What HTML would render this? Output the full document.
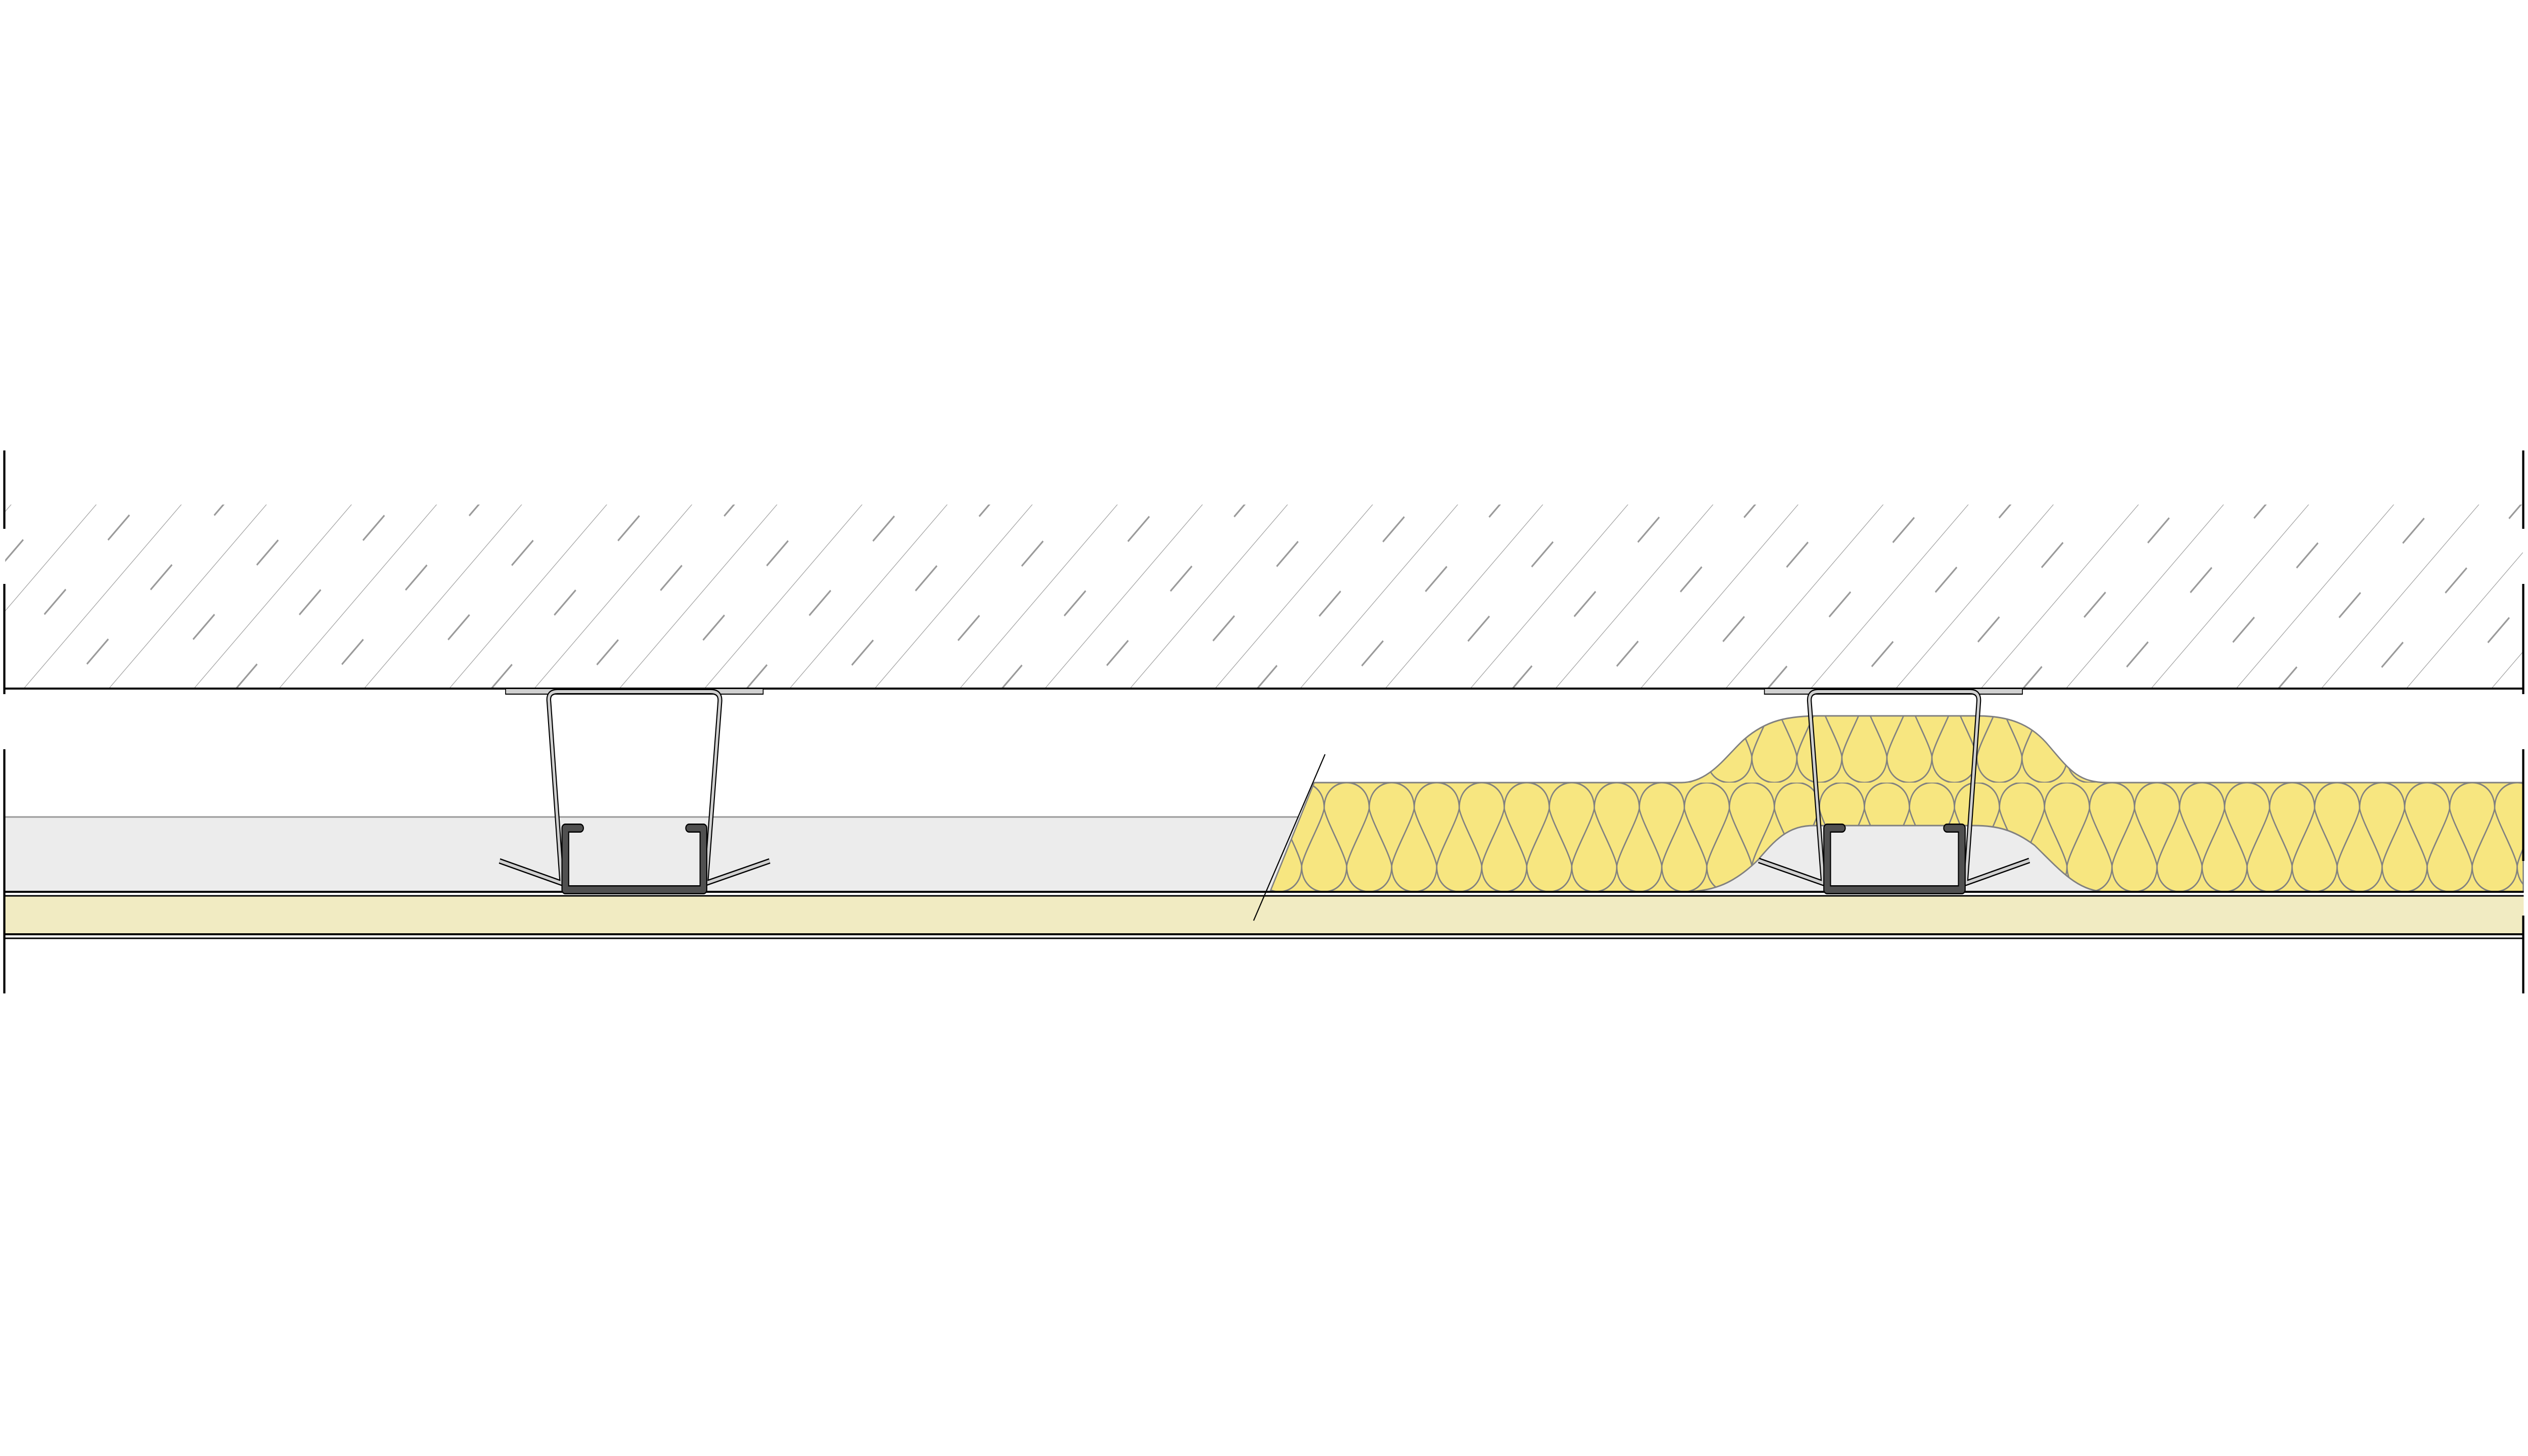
<!DOCTYPE html>
<html><head><meta name="viewport" content="width=5840, initial-scale=1">
<style>html,body{margin:0;padding:0;background:#fff;width:100%;height:100%;overflow:hidden}svg{display:block;position:fixed;left:0;top:0;width:100vw;height:100vh}</style></head>
<body>
<svg viewBox="0 0 5840 2880" preserveAspectRatio="none" xmlns="http://www.w3.org/2000/svg">
<defs>
<pattern id="hatch" patternUnits="userSpaceOnUse" width="139" height="208" patternTransform="translate(54,1362) rotate(45)">
<line x1="0" y1="-10" x2="0" y2="220" stroke="#999" stroke-width="2.5"/>
<line x1="69.5" y1="0" x2="69.5" y2="208" stroke="#999" stroke-width="3.5" stroke-dasharray="70 138"/>
</pattern>
<pattern id="wool" patternUnits="userSpaceOnUse" x="43" y="1548" width="104" height="216">
<rect width="104" height="216" fill="#f7e680"/>
<g fill="none" stroke="#808080" stroke-width="3">
<path d="M0,51 C0,-17 104,-17 104,51"/>
<path d="M0,51 C4,75 48,140 52,165"/>
<path d="M104,51 C100,75 56,140 52,165"/>
<path d="M-52,165 C-52,233 52,233 52,165"/>
<path d="M52,165 C52,233 156,233 156,165"/>
</g>
</pattern>
</defs>

<rect x="12" y="998" width="5816" height="364" fill="url(#hatch)"/>
<line x1="10" y1="1362" x2="5830" y2="1362" stroke="#000" stroke-width="4"/>

<rect x="10" y="1616" width="5820" height="148" fill="#ececec"/>
<line x1="10" y1="1616" x2="3000" y2="1616" stroke="#999" stroke-width="3"/>

<path d="M3036,1548 L3884,1548 C3950,1548 3990,1492 4030,1462 C4080,1425 4130,1416 4203,1416 L4567,1416 C4640,1416 4690,1432 4730,1472 C4780,1522 4800,1548 4868,1548 L5829,1548 L5829,1764 L4868,1764 C4800,1764 4760,1722 4700,1672 C4650,1640 4610,1633 4560,1633 L4190,1633 C4130,1633 4100,1662 4060,1702 C4000,1752 3950,1764 3884,1764 L2934,1764 Z" fill="url(#wool)" stroke="#808080" stroke-width="3"/>

<rect x="10" y="1772" width="5820" height="76" fill="#f1ebc2"/>
<line x1="10" y1="1764" x2="5830" y2="1764" stroke="#000" stroke-width="4"/>
<line x1="10" y1="1772" x2="5830" y2="1772" stroke="#000" stroke-width="3"/>
<line x1="10" y1="1848" x2="5830" y2="1848" stroke="#000" stroke-width="4"/>
<line x1="10" y1="1856" x2="5830" y2="1856" stroke="#000" stroke-width="3"/>

<line x1="3061" y1="1492" x2="2896" y2="1821" stroke="#000" stroke-width="2.5"/>

<rect x="1168" y="1362" width="595" height="11" fill="#d0d0d0" stroke="#000" stroke-width="2"/>
<path d="M1154,1703 L1298,1747 L1268,1388 Q1265,1368 1288,1368 L1642,1368 Q1665,1368 1663,1388 L1631,1747 L1778,1703" fill="none" stroke="#000" stroke-width="11" stroke-linejoin="round"/>
<path d="M1154,1703 L1298,1747 L1268,1388 Q1265,1368 1288,1368 L1642,1368 Q1665,1368 1663,1388 L1631,1747 L1778,1703" fill="none" stroke="#d0d0d0" stroke-width="6" stroke-linejoin="round"/>
<path d="M1340,1638 L1306,1638 L1306,1760 L1625,1760 L1625,1638 L1592,1638" fill="none" stroke="#000" stroke-width="18" stroke-linecap="round" stroke-linejoin="round"/>
<path d="M1340,1638 L1306,1638 L1306,1760 L1625,1760 L1625,1638 L1592,1638" fill="none" stroke="#505050" stroke-width="13" stroke-linecap="round" stroke-linejoin="round"/>

<rect x="4076" y="1362" width="596" height="11" fill="#d0d0d0" stroke="#000" stroke-width="2"/>
<path d="M4063,1702 L4212,1747 L4180,1388 Q4178,1368 4200,1368 L4551,1368 Q4573,1368 4571,1388 L4541,1747 L4688,1702" fill="none" stroke="#000" stroke-width="11" stroke-linejoin="round"/>
<path d="M4063,1702 L4212,1747 L4180,1388 Q4178,1368 4200,1368 L4551,1368 Q4573,1368 4571,1388 L4541,1747 L4688,1702" fill="none" stroke="#d0d0d0" stroke-width="6" stroke-linejoin="round"/>
<path d="M4255,1638 L4221,1638 L4221,1760 L4532,1760 L4532,1638 L4498,1638" fill="none" stroke="#000" stroke-width="18" stroke-linecap="round" stroke-linejoin="round"/>
<path d="M4255,1638 L4221,1638 L4221,1760 L4532,1760 L4532,1638 L4498,1638" fill="none" stroke="#505050" stroke-width="13" stroke-linecap="round" stroke-linejoin="round"/>

<g stroke="#000" stroke-width="5">
<line x1="10" y1="891" x2="10" y2="1046"/>
<line x1="10" y1="1155" x2="10" y2="1373"/>
<line x1="10" y1="1482" x2="10" y2="1965"/>
<line x1="5829" y1="891" x2="5829" y2="1046"/>
<line x1="5829" y1="1155" x2="5829" y2="1373"/>
<line x1="5829" y1="1482" x2="5829" y2="1703"/>
<line x1="5829" y1="1811" x2="5829" y2="1965"/>
</g>
</svg>
</body></html>
